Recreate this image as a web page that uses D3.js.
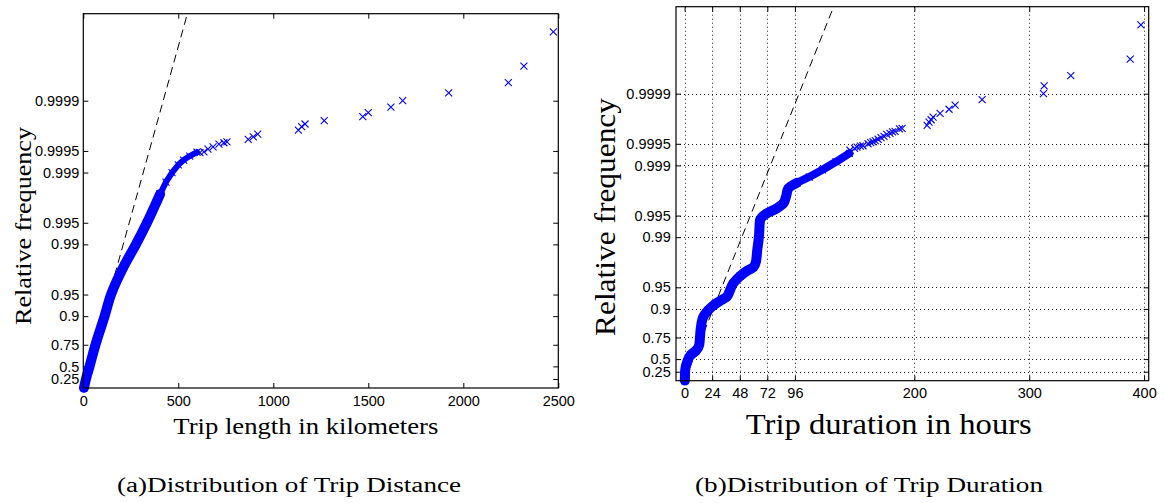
<!DOCTYPE html>
<html>
<head>
<meta charset="utf-8">
<script src="https://cdn.jsdelivr.net/npm/d3@7"></script>
<style>
  html, body { margin: 0; padding: 0; background: #fff; }
  svg { display: block; }
  .tick text { font-family: "Liberation Sans", Arial, Helvetica, sans-serif; fill: #000; }
  .ttl { font-family: "Liberation Serif", "Times New Roman", serif; fill: #000; }
</style>
</head>
<body>
<svg id="chart" width="1164" height="503"></svg>
<script>
// ---------- DATA ----------
const yTicks = [0.25, 0.5, 0.75, 0.9, 0.95, 0.99, 0.995, 0.999, 0.9995, 0.9999];
const yTickLabels = ["0.25", "0.5", "0.75", "0.9", "0.95", "0.99", "0.995", "0.999", "0.9995", "0.9999"];

const distXTicks = [0, 500, 1000, 1500, 2000, 2500];
const durXTicks = [0, 24, 48, 72, 96, 200, 300, 400];

// (a) trip distance (km) vs relative frequency
const distDenseKm = [3.7, 14, 33, 64, 112, 146, 214, 277, 335, 404];
const distDenseP  = [0.005, 0.25, 0.5, 0.75, 0.9, 0.95, 0.98, 0.99, 0.995, 0.998];
const distMidKm = [404, 435, 467, 500, 528, 560, 598];
const distMidP  = [0.998, 0.99864, 0.999, 0.99922, 0.99933, 0.99941, 0.99948];
const distTailKm = [614, 635, 656, 683, 714, 740, 756, 868, 895, 918, 1132, 1149, 1167, 1268, 1471, 1500, 1619, 1681, 1923, 2237, 2319, 2474];
const distTailP  = [0.99947, 0.999486, 0.999529, 0.999562, 0.999599, 0.999615, 0.999627, 0.999655, 0.999682, 0.999709, 0.999744, 0.99977, 0.999789, 0.99981, 0.999833, 0.999853, 0.999877, 0.9999, 0.999922, 0.999944, 0.999967, 0.999989];
const distFitKm = [0, 549];
const distFitP  = [0, 0.999994];

// (b) trip duration (hours) vs relative frequency
const durDenseH = [0.2, 0.5, 2.3, 5.2, 9.8, 12.7, 13.9, 15.7, 20.6, 26.4, 32.2, 36.6, 38.9, 42.3, 48.2, 55.4, 59.8, 62.1, 63.2, 64.7, 65.6, 71.4, 80.1, 85.9, 88.2, 90.2, 97.6];
const durDenseP = [0.005, 0.29, 0.456, 0.561, 0.618, 0.681, 0.803, 0.865, 0.896, 0.914, 0.925, 0.932, 0.942, 0.956, 0.965, 0.9712, 0.9736, 0.978, 0.9848, 0.9901, 0.9942, 0.99533, 0.99602, 0.99661, 0.99726, 0.9979, 0.99825];
const durMidH = [97.6, 108.5, 120, 131.8, 143.4];
const durMidP = [0.99825, 0.99855, 0.99885, 0.99911, 0.99932];
const durTailH = [144.0, 148, 150.1, 153, 155.3, 159.7, 162, 164.0, 166, 168.4, 171, 173.6, 176, 178.8, 181, 183.2, 187, 189.3, 211.1, 212.8, 214.6, 216.3, 222.4, 230.2, 235.5, 259.0, 312.4, 313.0, 336.2, 387.9, 397.2];
const durTailP = [0.999385, 0.99942, 0.999442, 0.99946, 0.999468, 0.999501, 0.99952, 0.999532, 0.99955, 0.999568, 0.99959, 0.999607, 0.99963, 0.999643, 0.99966, 0.999665, 0.99969, 0.999696, 0.999724, 0.99975, 0.999769, 0.999787, 0.999812, 0.999835, 0.999855, 0.999879, 0.9999, 0.999922, 0.999944, 0.999967, 0.999989];
const durFitH = [0, 130];
const durFitP = [0, 0.999994];

// ---------- DRAW ----------
const svg = d3.select("#chart");
const BLUE = "#0000ff";
const zip = (xs, ps) => xs.map((v, i) => ({ x: v, p: ps[i] }));

function panel(cfg) {
  const { id, left, right, top, bottom, xDomain, xTicks, grid, xPad, yPad, fs } = cfg;
  const g = svg.append("g");
  const x = d3.scaleLinear().domain(xDomain).range([left, right]);
  const yLog = d3.scaleLog().domain([1, Math.exp(-12)]).range([bottom, top]);
  const y = p => yLog(1 - p);

  g.append("defs").append("clipPath").attr("id", "clip" + id)
    .append("rect").attr("x", left).attr("y", top).attr("width", right - left).attr("height", bottom - top);

  // grid
  if (grid) {
    const gg = g.append("g").attr("stroke", "#222").attr("stroke-width", 1).attr("stroke-dasharray", "1,3");
    gg.selectAll("line.v").data(xTicks).join("line")
      .attr("x1", d => Math.round(x(d)) + 0.5).attr("x2", d => Math.round(x(d)) + 0.5)
      .attr("y1", top).attr("y2", bottom);
    gg.selectAll("line.h").data(yTicks).join("line")
      .attr("y1", d => Math.round(y(d)) + 0.5).attr("y2", d => Math.round(y(d)) + 0.5)
      .attr("x1", left).attr("x2", right);
  }

  const qTicks = yTicks.map(p => 1 - p);
  // axes
  const axB = g.append("g").attr("transform", `translate(0,${bottom})`)
    .call(d3.axisBottom(x).tickValues(xTicks).tickFormat(d3.format("d")).tickSizeInner(-5).tickSizeOuter(0).tickPadding(xPad));
  const axT = g.append("g").attr("transform", `translate(0,${top})`)
    .call(d3.axisTop(x).tickValues(xTicks).tickFormat("").tickSizeInner(-5).tickSizeOuter(0));
  const axL = g.append("g").attr("transform", `translate(${left},0)`)
    .call(d3.axisLeft(yLog).tickValues(qTicks).tickFormat((d, i) => yTickLabels[i]).tickSizeInner(-5).tickSizeOuter(0).tickPadding(yPad));
  const axR = g.append("g").attr("transform", `translate(${right},0)`)
    .call(d3.axisRight(yLog).tickValues(qTicks).tickFormat("").tickSizeInner(-5).tickSizeOuter(0));
  [axB, axT, axL, axR].forEach(a => {
    a.select(".domain").remove();
    a.selectAll(".tick line").attr("stroke", "#000").attr("stroke-width", 1);
    a.selectAll(".tick text").style("font-size", fs + "px").attr("fill", "#000");
  });

  // fitted reference (dashed)
  const line = d3.line().x(d => x(d.x)).y(d => y(d.p));
  g.append("path").datum(zip(cfg.fitX, cfg.fitP))
    .attr("clip-path", `url(#clip${id})`)
    .attr("d", line).attr("fill", "none").attr("stroke", "#000").attr("stroke-width", 1)
    .attr("stroke-dasharray", "8,5");

  // dense band of overlapping markers
  const lineC = d3.line().x(d => x(d.x)).y(d => y(d.p)).curve(d3.curveMonotoneY);
  g.append("path").datum(zip(cfg.denseX, cfg.denseP))
    .attr("d", lineC).attr("fill", "none").attr("stroke", BLUE)
    .attr("stroke-width", 10).attr("stroke-linejoin", "round").attr("stroke-linecap", "round");
  g.append("path").datum(zip(cfg.midX, cfg.midP))
    .attr("d", line).attr("fill", "none").attr("stroke", BLUE)
    .attr("stroke-width", cfg.midW).attr("stroke-linejoin", "round").attr("stroke-linecap", "round");

  const mk = "M-3.5,-3.5L3.5,3.5M-3.5,3.5L3.5,-3.5";
  const pts = zip(cfg.denseX, cfg.denseP).concat(zip(cfg.midX, cfg.midP), zip(cfg.tailX, cfg.tailP));
  g.append("g").selectAll("path").data(pts).join("path")
    .attr("transform", d => `translate(${x(d.x)},${y(d.p)})`)
    .attr("d", mk).attr("stroke", BLUE).attr("stroke-width", 1.1).attr("fill", "none");

  // frame
  g.append("rect").attr("x", left).attr("y", top).attr("width", right - left).attr("height", bottom - top)
    .attr("fill", "none").attr("stroke", "#000").attr("stroke-width", 1.2);

  // titles
  g.append("text").attr("class", "ttl").attr("x", cfg.xt.x).attr("y", cfg.xt.y)
    .attr("text-anchor", "middle").style("font-size", cfg.xt.fs + "px")
    .attr("textLength", cfg.xt.len).attr("lengthAdjust", "spacingAndGlyphs").text(cfg.xt.text);
  g.append("text").attr("class", "ttl")
    .attr("transform", `translate(${cfg.yt.x},${cfg.yt.y}) rotate(-90)`)
    .attr("text-anchor", "middle").style("font-size", cfg.yt.fs + "px")
    .attr("textLength", cfg.yt.len).attr("lengthAdjust", "spacingAndGlyphs").text("Relative frequency");
  g.append("text").attr("class", "ttl").attr("x", cfg.cap.x).attr("y", cfg.cap.y)
    .attr("text-anchor", "middle").style("font-size", "20px")
    .attr("textLength", cfg.cap.len).attr("lengthAdjust", "spacingAndGlyphs").text(cfg.cap.text);
}

panel({
  id: "a", left: 83.3, right: 558.3, top: 13.7, bottom: 388,
  xDomain: [0, 2500], xTicks: distXTicks, grid: false, xPad: 8, yPad: 4, fs: 14.5, midW: 6,
  denseX: distDenseKm, denseP: distDenseP, midX: distMidKm, midP: distMidP,
  tailX: distTailKm, tailP: distTailP, fitX: distFitKm, fitP: distFitP,
  xt: { text: "Trip length in kilometers", x: 305.8, y: 433.5, fs: 23, len: 265 },
  yt: { x: 31, y: 226, fs: 23, len: 198 },
  cap: { text: "(a)Distribution of Trip Distance", x: 289, y: 492, len: 344 }
});

panel({
  id: "b", left: 676, right: 1148.7, top: 6.7, bottom: 380.7,
  xDomain: [-7.5, 404], xTicks: durXTicks, grid: true, xPad: 7, yPad: 5.3, fs: 14.5, midW: 8,
  denseX: durDenseH, denseP: durDenseP, midX: durMidH, midP: durMidP,
  tailX: durTailH, tailP: durTailP, fitX: durFitH, fitP: durFitP,
  xt: { text: "Trip duration in hours", x: 888.8, y: 434, fs: 30, len: 286 },
  yt: { x: 615, y: 217, fs: 30, len: 238 },
  cap: { text: "(b)Distribution of Trip Duration", x: 869, y: 492, len: 348 }
});
</script>
</body>
</html>
